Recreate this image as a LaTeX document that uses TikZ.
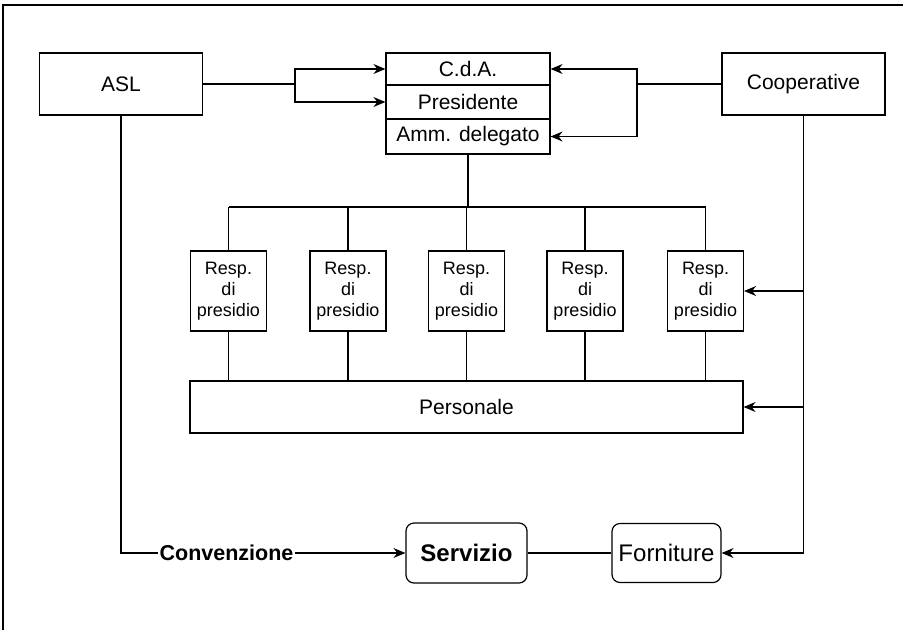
\documentclass[tikz,border=0pt]{standalone}
\usepackage{fontspec}
\setmainfont{Liberation Sans}
\usetikzlibrary{arrows.meta}
\begin{document}
\begin{tikzpicture}[x=1pt,y=-1pt,
  line width=1.2pt,
  box/.style={draw, inner sep=0pt, align=center, font=\fontsize{21}{24}\selectfont},
  respbox/.style={draw, inner sep=0pt, align=center, minimum width=76pt, minimum height=80pt, font=\fontsize{18}{21}\selectfont},
  roundbox/.style={draw, rounded corners=8pt, inner sep=0pt, align=center, font=\fontsize{24}{28}\selectfont},
  arr/.style={-{Stealth[length=12pt,width=10pt,inset=4pt]}}
]
\useasboundingbox (0,0) rectangle (909,630);
\draw[line width=1.6pt] (3,630) -- (3,5) -- (903,5);

% top row
\node[box, minimum width=163pt, minimum height=62pt] (asl) at (121,84) {ASL};
\node[box, minimum width=164pt, minimum height=32pt] (cda) at (468,69) {C.d.A.};
\node[box, minimum width=164pt, minimum height=34pt] (pres) at (468,102) {Presidente};
\node[box, minimum width=164pt, minimum height=35pt] (amm) at (468,136.5) {Amm. delegato};
\node[box, minimum width=163pt, minimum height=62pt] (coop) at (803.5,84) {Cooperative};

% Resp di presidio
\node[respbox] (r1) at (228.5,291) {Resp.\\di\\presidio};
\node[respbox] (r2) at (348,291) {Resp.\\di\\presidio};
\node[respbox] (r3) at (466.5,291) {Resp.\\di\\presidio};
\node[respbox] (r4) at (585,291) {Resp.\\di\\presidio};
\node[respbox] (r5) at (705.5,291) {Resp.\\di\\presidio};

\node[box, minimum width=553pt, minimum height=52pt] (pers) at (466.5,407) {Personale};

% bottom row
\node[roundbox, minimum width=121pt, minimum height=60pt, font=\fontsize{24}{28}\selectfont\bfseries] (serv) at (466.5,553) {Servizio};
\node[roundbox, minimum width=109pt, minimum height=59pt] (forn) at (666.5,553) {Forniture};
\node[inner xsep=1pt, inner ysep=0pt, font=\fontsize{21.5}{24}\selectfont\bfseries] (conv) at (226.5,553) {Convenzione};

% junctions
\coordinate (jl) at (295,84);
\coordinate (jr) at (637,84);
\coordinate (busL) at (228.5,207);
\coordinate (busR) at (705.5,207);

% connectors top
\draw (asl.east) -- (jl);
\draw[arr] (jl) |- (cda.west);
\draw[arr] (jl) |- (pres.west);
\draw (coop.west) -- (jr);
\draw[arr] (jr) |- (cda.east);
\draw[arr] (jr) |- (amm.east);

% bus
\draw (amm.south) -- (amm.south |- busL);
\draw (busL) -- (busR);
\foreach \r in {r1,r2,r3,r4,r5} {
  \draw (\r.north) -- (\r.north |- busL);
  \draw (\r.south) -- (\r.south |- pers.north);
}

% right side
\draw[arr] (coop.south) |- (forn.east);
\draw[arr] (coop.south |- r5.east) -- (r5.east);
\draw[arr] (coop.south |- pers.east) -- (pers.east);

% left side / bottom
\draw (asl.south) |- (conv.west);
\draw[arr] (conv.east) -- (serv.west);
\draw (serv.east) -- (forn.west);
\end{tikzpicture}
\end{document}
